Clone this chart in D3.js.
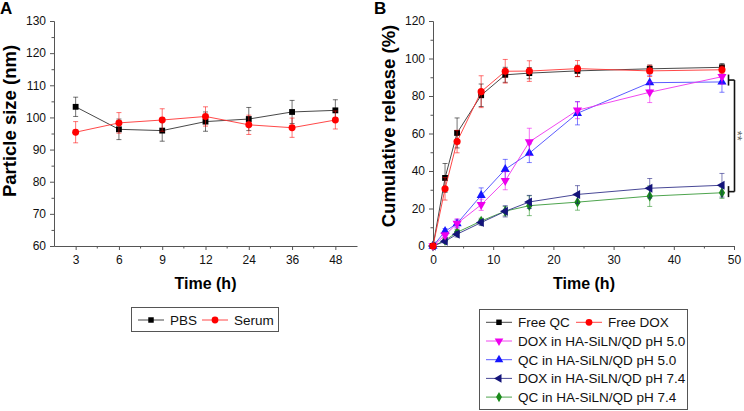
<!DOCTYPE html>
<html>
<head>
<meta charset="utf-8">
<script src="https://cdn.jsdelivr.net/npm/d3@7"></script>
<style>
  body { margin: 0; background: #fff; }
  svg { display: block; font-family: Arial, "Liberation Sans", sans-serif; }
  .axis path, .axis line { stroke: #555; }
  .axis text { font-size: 12px; fill: #111; }
</style>
</head>
<body>
<svg id="chart" width="744" height="411"></svg>
<script>
// ---- panel A data ----
var timesA = ["3", "6", "9", "12", "24", "36", "48"];
var pbsSize = [103.3, 96.3, 95.9, 98.7, 99.5, 101.7, 102.2];
var pbsErr = [3.0, 3.2, 3.3, 3.0, 3.6, 3.6, 3.3];
var serumSize = [95.4, 98.3, 99.2, 100.3, 97.7, 96.8, 99.2];
var serumErr = [3.3, 3.2, 3.5, 3.0, 3.0, 3.0, 2.8];
var ticksA = [60, 70, 80, 90, 100, 110, 120, 130];

// ---- panel B data ----
var timesB = [0, 2, 4, 8, 12, 16, 24, 36, 48];
var freeQC = [0, 36.3, 60.3, 80.4, 91.3, 92.2, 93.4, 94.5, 95.3];
var freeQCErr = [0, 7.7, 8, 6, 4, 3, 3, 2, 2];
var freeDOX = [0, 30.5, 55.7, 82.3, 93.2, 93.3, 94.6, 93.4, 94.0];
var freeDOXErr = [0, 6, 6, 8.5, 6.3, 5.5, 4.3, 3, 2];
var dox50 = [0, 5.8, 12, 22, 34.8, 55.5, 72.4, 82, 90.3];
var dox50Err = [0, 1.5, 2.5, 3, 4.8, 7.3, 4.5, 5.5, 4];
var qc50 = [0, 7.8, 12, 27, 40.9, 49.5, 70.8, 87.1, 87.5];
var qc50Err = [0, 1.5, 2, 4, 5.3, 5, 6.2, 4, 5.5];
var dox74 = [0, 2.5, 6.3, 12.5, 18.5, 23.5, 27.5, 30.8, 32.4];
var dox74Err = [0, 1, 1.5, 1.5, 3, 3.5, 4.7, 5.2, 6.3];
var qc74 = [0, 3, 7.3, 13.3, 18.6, 21.5, 23.4, 26.6, 28.4];
var qc74Err = [0, 1, 1.5, 1.5, 2.5, 5.3, 4.3, 5.5, 3];
var ticksBx = [0, 10, 20, 30, 40, 50];
var ticksBy = [0, 20, 40, 60, 80, 100, 120];
// significance bracket ends (% release)
var bracketTop = 88.5, bracketBottom = 29;

var svg = d3.select("#chart");

/**
 * error bars + line + markers for one series
 */
function drawSeries(g, xs, ys, errs, x, y, color, lineColor, symbol, rot, size) {
    var pts = xs.map(function(t, i) { return {t: t, v: ys[i], e: errs[i]}; });

    var eb = g.append("g").attr("stroke", color).attr("stroke-opacity", 0.55).attr("stroke-width", 1);
    pts.forEach(function(d) {
        if (!d.e) return;
        var cx = x(d.t);
        eb.append("line").attr("x1", cx).attr("x2", cx).attr("y1", y(d.v + d.e)).attr("y2", y(d.v - d.e));
        eb.append("line").attr("x1", cx - 2.5).attr("x2", cx + 2.5).attr("y1", y(d.v + d.e)).attr("y2", y(d.v + d.e));
        eb.append("line").attr("x1", cx - 2.5).attr("x2", cx + 2.5).attr("y1", y(d.v - d.e)).attr("y2", y(d.v - d.e));
    });

    var line = d3.line()
        .x(function(d) { return x(d.t); })
        .y(function(d) { return y(d.v); });
    g.append("path")
        .attr("d", line(pts))
        .attr("fill", "none")
        .attr("stroke", lineColor)
        .attr("stroke-width", 0.9);

    g.selectAll(null)
        .data(pts)
        .enter().append("path")
        .attr("d", d3.symbol().type(symbol).size(size))
        .attr("transform", function(d) { return "translate(" + x(d.t) + "," + y(d.v) + ") rotate(" + rot + ")"; })
        .attr("fill", color);
}

function legendItem(g, x0, y0, label, color, lineColor, symbol, rot, size) {
    g.append("line").attr("x1", x0).attr("x2", x0 + 26).attr("y1", y0).attr("y2", y0)
        .attr("stroke", lineColor).attr("stroke-width", 0.9);
    g.append("path").attr("d", d3.symbol().type(symbol).size(size))
        .attr("transform", "translate(" + (x0 + 13) + "," + y0 + ") rotate(" + rot + ")")
        .attr("fill", color);
    g.append("text").attr("x", x0 + 32).attr("y", y0 + 4.8)
        .attr("font-size", "13.5px").attr("fill", "#111").text(label);
}

// ================= PANEL A =================
var xA = d3.scalePoint().domain(timesA).range([54, 357]).padding(0.5);
var yA = d3.scaleLinear().domain([60, 130]).range([246, 21]);

var gA = svg.append("g");

gA.append("g").attr("class", "axis")
    .attr("transform", "translate(54,0)")
    .call(d3.axisLeft(yA).tickValues(ticksA).tickSize(4).tickPadding(4).tickSizeOuter(0));
gA.append("g").attr("class", "axis")
    .attr("transform", "translate(54,0)")
    .call(d3.axisLeft(yA).tickValues(d3.range(65, 130, 10)).tickSize(2.5).tickFormat("").tickSizeOuter(0));

gA.append("g").attr("class", "axis")
    .attr("transform", "translate(0,246)")
    .call(d3.axisBottom(xA).tickSize(4).tickPadding(5).tickSizeOuter(0));
// minor ticks between categories
var minorA = gA.append("g").attr("stroke", "#555");
timesA.slice(1).forEach(function(t, i) {
    var mx = (xA(timesA[i]) + xA(t)) / 2;
    minorA.append("line").attr("x1", mx).attr("x2", mx).attr("y1", 246).attr("y2", 248.5);
});

drawSeries(gA, timesA, pbsSize, pbsErr, xA, yA, "#000", "#333", d3.symbolSquare, 0, 34);
drawSeries(gA, timesA, serumSize, serumErr, xA, yA, "#f00", "#f33", d3.symbolCircle, 0, 38);

gA.append("text").attr("x", 0).attr("y", 14).attr("font-size", "17px").attr("font-weight", "bold").text("A");
gA.append("text")
    .attr("transform", "translate(16,121) rotate(-90)")
    .attr("text-anchor", "middle").attr("font-size", "18.5px").attr("font-weight", "bold")
    .text("Particle size (nm)");
gA.append("text").attr("x", 205.5).attr("y", 289)
    .attr("text-anchor", "middle").attr("font-size", "16px").attr("font-weight", "bold")
    .text("Time (h)");

// legend A
var legA = gA.append("g");
legA.append("rect").attr("x", 131.5).attr("y", 307.5).attr("width", 147).attr("height", 24)
    .attr("fill", "#fff").attr("stroke", "#555").attr("stroke-width", 1);
legendItem(legA, 138, 320, "PBS", "#000", "#333", d3.symbolSquare, 0, 30);
legendItem(legA, 202, 320, "Serum", "#f00", "#f33", d3.symbolCircle, 0, 36);

// ================= PANEL B =================
var xB = d3.scaleLinear().domain([0, 50]).range([433, 734]);
var yB = d3.scaleLinear().domain([0, 120]).range([246, 21]);

var gB = svg.append("g");

gB.append("g").attr("class", "axis")
    .attr("transform", "translate(433,0)")
    .call(d3.axisLeft(yB).tickValues(ticksBy).tickSize(4).tickPadding(4).tickSizeOuter(0));
gB.append("g").attr("class", "axis")
    .attr("transform", "translate(433,0)")
    .call(d3.axisLeft(yB).tickValues(d3.range(10, 120, 20)).tickSize(2.5).tickFormat("").tickSizeOuter(0));
gB.append("g").attr("class", "axis")
    .attr("transform", "translate(0,246)")
    .call(d3.axisBottom(xB).tickValues(ticksBx).tickSize(4).tickPadding(5).tickSizeOuter(0));
gB.append("g").attr("class", "axis")
    .attr("transform", "translate(0,246)")
    .call(d3.axisBottom(xB).tickValues(d3.range(5, 50, 10)).tickSize(2.5).tickFormat("").tickSizeOuter(0));

var seriesB = [
    {v: qc74, e: qc74Err, c: "#1a8a1a", lc: "#3a9a3a", s: d3.symbolDiamond, r: 0, z: 34},
    {v: dox74, e: dox74Err, c: "#14147a", lc: "#33338a", s: d3.symbolTriangle, r: -90, z: 36},
    {v: qc50, e: qc50Err, c: "#1515ff", lc: "#4a4aff", s: d3.symbolTriangle, r: 0, z: 36},
    {v: dox50, e: dox50Err, c: "#ee00ee", lc: "#ee33ee", s: d3.symbolTriangle, r: 180, z: 36},
    {v: freeQC, e: freeQCErr, c: "#000", lc: "#333", s: d3.symbolSquare, r: 0, z: 34},
    {v: freeDOX, e: freeDOXErr, c: "#f00", lc: "#f33", s: d3.symbolCircle, r: 0, z: 40}
];
seriesB.forEach(function(s) {
    drawSeries(gB, timesB, s.v, s.e, xB, yB, s.c, s.lc, s.s, s.r, s.z);
});

// significance bracket
var br = gB.append("g").attr("stroke", "#111").attr("stroke-width", 1.6).attr("fill", "none");
var bx = 734.5;
[bracketTop, bracketBottom].forEach(function(v) {
    br.append("line").attr("x1", bx - 6).attr("x2", bx).attr("y1", yB(v)).attr("y2", yB(v));
    br.append("line").attr("x1", bx - 6).attr("x2", bx - 6).attr("y1", yB(v) - 5.5).attr("y2", yB(v) + 5.5);
});
br.append("line").attr("x1", bx).attr("x2", bx).attr("y1", yB(bracketTop)).attr("y2", yB(bracketBottom));
gB.append("text")
    .attr("transform", "translate(733," + ((yB(bracketTop) + yB(bracketBottom)) / 2) + ") rotate(90)")
    .attr("text-anchor", "middle").attr("font-size", "13px").attr("fill", "#666")
    .text("**");

gB.append("text").attr("x", 374).attr("y", 14).attr("font-size", "17px").attr("font-weight", "bold").text("B");
gB.append("text")
    .attr("transform", "translate(395,126) rotate(-90)")
    .attr("text-anchor", "middle").attr("font-size", "18.5px").attr("font-weight", "bold")
    .text("Cumulative release (%)");
gB.append("text").attr("x", 584).attr("y", 289)
    .attr("text-anchor", "middle").attr("font-size", "16px").attr("font-weight", "bold")
    .text("Time (h)");

// legend B
var legB = gB.append("g");
legB.append("rect").attr("x", 479.5).attr("y", 309.5).attr("width", 208).attr("height", 100)
    .attr("fill", "#fff").attr("stroke", "#555").attr("stroke-width", 1);
var rowY = [322.3, 341, 359.7, 378.4, 397.1];
legendItem(legB, 486, rowY[0], "Free QC", "#000", "#333", d3.symbolSquare, 0, 30);
legendItem(legB, 576, rowY[0], "Free DOX", "#f00", "#f33", d3.symbolCircle, 0, 36);
legendItem(legB, 486, rowY[1], "DOX in HA-SiLN/QD pH 5.0", "#ee00ee", "#ee33ee", d3.symbolTriangle, 180, 32);
legendItem(legB, 486, rowY[2], "QC in HA-SiLN/QD pH 5.0", "#1515ff", "#4a4aff", d3.symbolTriangle, 0, 32);
legendItem(legB, 486, rowY[3], "DOX in HA-SiLN/QD pH 7.4", "#14147a", "#33338a", d3.symbolTriangle, -90, 32);
legendItem(legB, 486, rowY[4], "QC in HA-SiLN/QD pH 7.4", "#1a8a1a", "#3a9a3a", d3.symbolDiamond, 0, 30);
</script>
</body>
</html>
